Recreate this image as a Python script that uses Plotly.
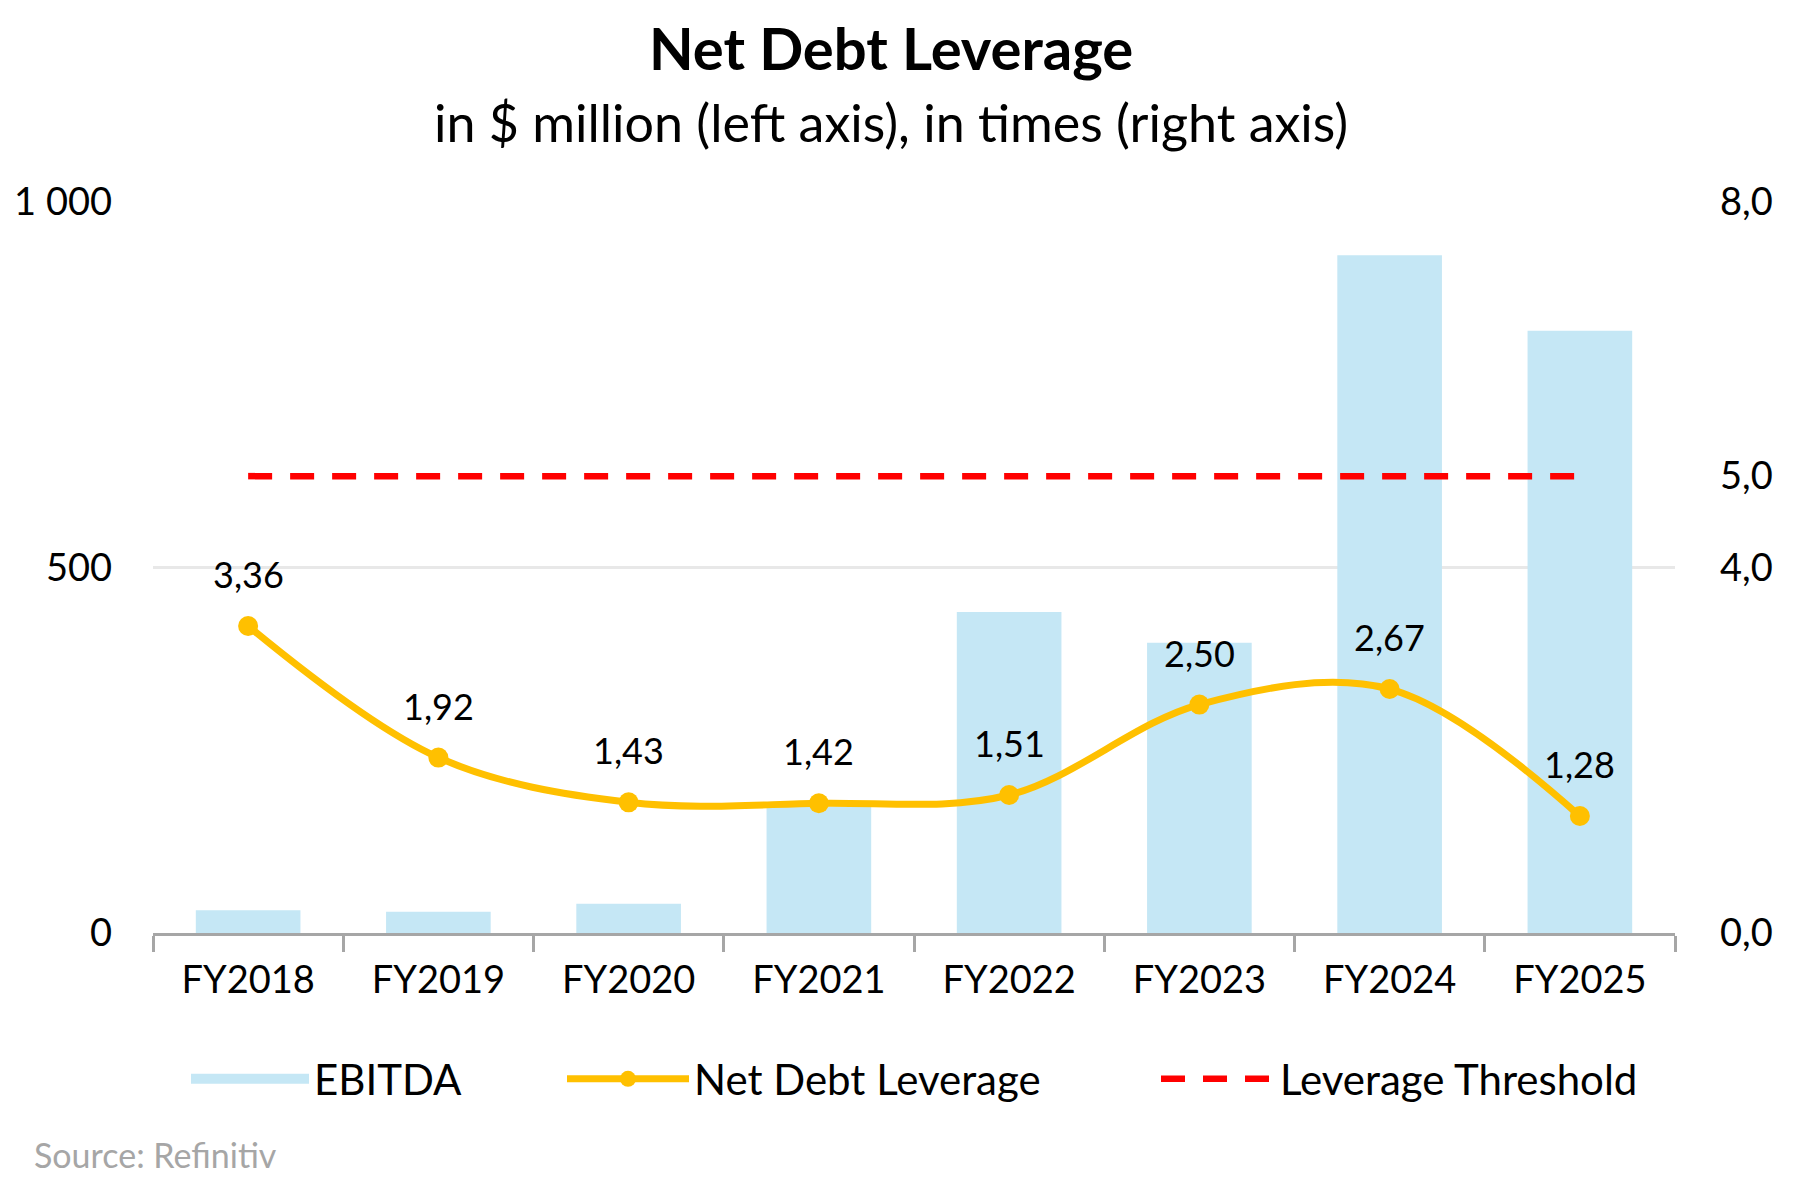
import plotly.graph_objects as go

categories = ["FY2018", "FY2019", "FY2020", "FY2021", "FY2022", "FY2023", "FY2024", "FY2025"]
ebitda = [31, 29, 40, 173, 439, 397, 927, 824]
leverage = [3.36, 1.92, 1.43, 1.42, 1.51, 2.50, 2.67, 1.28]
leverage_labels = ["3,36", "1,92", "1,43", "1,42", "1,51", "2,50", "2,67", "1,28"]
threshold_value = 5.0
threshold = [threshold_value] * len(categories)

left_tickvals = [0, 500, 1000]
left_ticktext = ["0", "500", "1 000"]
right_tickvals = [0, 4, 5, 8]
right_ticktext = ["0,0", "4,0", "5,0", "8,0"]

FONT = "Lato"
BAR_COLOR = "#C5E7F5"
LINE_COLOR = "#FFC000"
THR_COLOR = "#FF0000"
W, H = 1815, 1188
ML, MR, MT, MB = 153, 140, 202, 255
PW = W - ML - MR
PH = H - MT - MB

def px_(X):
    return (X - ML) / PW

def py(Y):
    return (H - MB - Y) / PH

fig = go.Figure()
fig.add_trace(go.Bar(
    x=categories, y=ebitda, name="EBITDA",
    marker=dict(color=BAR_COLOR, line=dict(width=0)),
    yaxis="y", showlegend=False,
))
# legend-only entry for the bars (wide swatch like the original)
fig.add_trace(go.Scatter(
    x=[None], y=[None], name="EBITDA", mode="lines",
    line=dict(color=BAR_COLOR, width=25),
    legend="legend", hoverinfo="skip",
))
fig.add_trace(go.Scatter(
    x=categories, y=leverage, name="Net Debt Leverage",
    mode="lines+markers",
    line=dict(color=LINE_COLOR, width=7, shape="spline", smoothing=1.0),
    marker=dict(color=LINE_COLOR, size=20),
    yaxis="y2", legend="legend2",
))
fig.add_trace(go.Scatter(
    x=categories, y=threshold, name="Leverage Threshold",
    mode="lines",
    line=dict(color=THR_COLOR, width=6.5, dash="24px,18px"),
    yaxis="y2", legend="legend3",
))

for c, v, t in zip(categories, leverage, leverage_labels):
    fig.add_annotation(
        x=c, y=v, xref="x", yref="y2", text=t, showarrow=False,
        yanchor="middle", yshift=52,
        font=dict(family=FONT, size=36, color="#000000"),
    )

fig.add_annotation(
    x=px_(891), xref="paper", y=py(47), yref="paper",
    text="<b>Net Debt Leverage</b>", showarrow=False,
    xanchor="center", yanchor="middle",
    font=dict(family=FONT, size=58, color="#000000"),
)
fig.add_annotation(
    x=px_(891), xref="paper", y=py(122), yref="paper",
    text="in $ million (left axis), in times (right axis)", showarrow=False,
    xanchor="center", yanchor="middle",
    font=dict(family=FONT, size=52, color="#000000"),
)
fig.add_annotation(
    x=px_(32), xref="paper", y=py(1154), yref="paper",
    text="Source: Refinitiv", showarrow=False,
    xanchor="left", yanchor="middle",
    font=dict(family=FONT, size=34, color="#A6A6A6"),
)

legend_common = dict(
    orientation="h", yanchor="middle", y=py(1079), xanchor="left",
    font=dict(family=FONT, size=42, color="#000000"),
    bgcolor="rgba(0,0,0,0)", borderwidth=0,
)

fig.update_layout(
    width=W, height=H,
    margin=dict(l=ML, r=MR, t=MT, b=MB),
    paper_bgcolor="white", plot_bgcolor="white",
    font=dict(family=FONT, size=38, color="#000000"),
    bargap=0.45,
    showlegend=True,
    legend=dict(legend_common, x=px_(186), itemwidth=118),
    legend2=dict(legend_common, x=px_(562), itemwidth=122),
    legend3=dict(legend_common, x=px_(1156), itemwidth=114),
    xaxis=dict(
        type="category",
        showline=True, linecolor="#A6A6A6", linewidth=3,
        ticks="outside", tickson="boundaries", ticklen=16, tickwidth=3, tickcolor="#A6A6A6",
        tickfont=dict(family=FONT, size=38, color="#000000"),
        showgrid=False, zeroline=False,
        ticklabelstandoff=11,
    ),
    yaxis=dict(
        range=[0, 1000], tickvals=left_tickvals, ticktext=left_ticktext,
        showgrid=True, gridcolor="#E8E8E8", gridwidth=3,
        zeroline=False, showline=False, ticks="",
        tickfont=dict(family=FONT, size=38, color="#000000"),
        ticklabelstandoff=40,
    ),
    yaxis2=dict(
        range=[0, 8], tickvals=right_tickvals, ticktext=right_ticktext,
        overlaying="y", side="right",
        showgrid=False, zeroline=False, showline=False, ticks="",
        tickfont=dict(family=FONT, size=38, color="#000000"),
        ticklabelstandoff=44,
    ),
)

fig.write_html(
    "out.html",
    config={"displayModeBar": False},
    post_script="document.body.style.margin='0';document.body.style.padding='0';document.body.style.overflow='hidden';",
)
